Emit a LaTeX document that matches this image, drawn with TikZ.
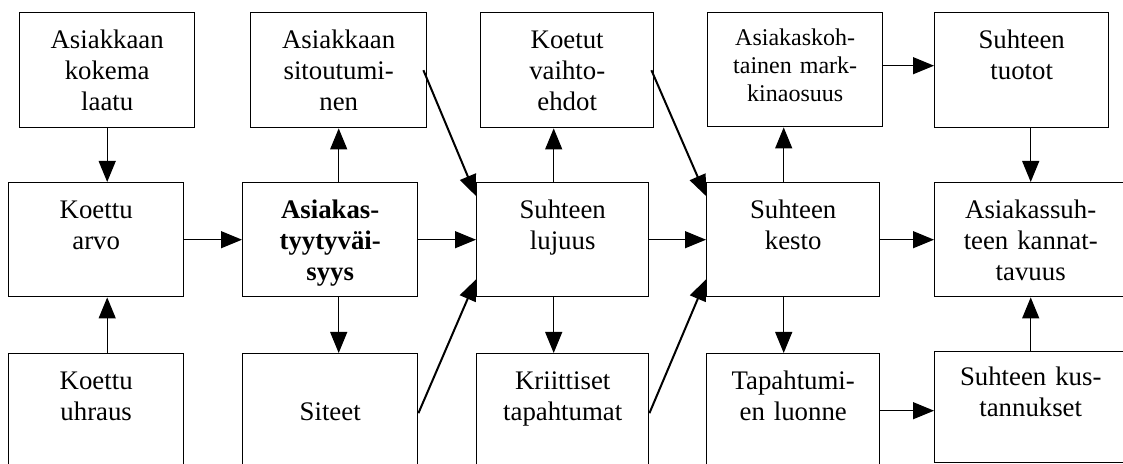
\documentclass[tikz,border=0pt]{standalone}
\usepackage{fontspec}
\setmainfont{Liberation Serif}
\usetikzlibrary{arrows.meta}
\newcommand\cellfont{\fontsize{13.4pt}{15.5pt}\selectfont}
\newcommand\smallcellfont{\fontsize{12pt}{14pt}\selectfont}
\begin{document}
\begin{tikzpicture}[x=0.5pt,y=-0.5pt,
  cell/.style={draw, line width=0.7pt, inner sep=0pt, anchor=north west,
    align=center, font=\cellfont, text height=18pt},
  link/.style={line width=0.6pt, -{Triangle[length=10.5pt,width=8.5pt]}},
  slant/.style={link, line width=1pt}]
\useasboundingbox (0,0) rectangle (1123,464);
\clip (0,0) rectangle (1123,464);
\fill[white] (0,0) rectangle (1123,464);

% upper row
\node[cell, text width=87.5pt, text depth=39.5pt] (laatu) at (19,12) {Asiakkaan\\kokema\\laatu};
\node[cell, text width=88pt, text depth=39.5pt] (sit) at (250,12) {Asiakkaan\\sitoutumi-\\nen};
\node[cell, text width=86.5pt, text depth=39.5pt] (vaiht) at (480,12) {Koetut\\vaihto-\\ehdot};
\node[cell, font=\smallcellfont, text height=16.5pt, text width=87.5pt, text depth=40.5pt] (mark) at (707,12) {Asiakaskoh-\\tainen mark-\\kinaosuus};
\node[cell, text width=87pt, text depth=39.5pt] (tuotot) at (934,12) {Suhteen\\tuotot};

% middle row
\node[cell, text width=87.5pt, text depth=39pt] (arvo) at (8,182) {Koettu\\arvo};
\node[cell, text width=87.5pt, text depth=39pt, font=\cellfont\bfseries] (tyyt) at (242,182) {Asiakas-\\tyytyväi-\\syys};
\node[cell, text width=86pt, text depth=39pt] (lujuus) at (476,182) {Suhteen\\lujuus};
\node[cell, text width=86.5pt, text depth=39pt] (kesto) at (706,182) {Suhteen\\kesto};
\node[cell, text width=96pt, text depth=39pt] (kann) at (934,182) {Asiakassuh-\\teen kannat-\\tavuus};

% lower row
\node[cell, text width=87.5pt, text depth=45.5pt] (uhraus) at (8,353) {Koettu\\uhraus};
\node[cell, text width=87.5pt, text depth=45.5pt] (siteet) at (242,353) {\mbox{}\\Siteet};
\node[cell, text width=86pt, text depth=45.5pt] (krit) at (476,353) {Kriittiset\\tapahtumat};
\node[cell, text width=86.5pt, text depth=45.5pt] (tapaht) at (706,353) {Tapahtumi-\\en luonne};
\node[cell, text height=17pt, text width=96pt, text depth=38.5pt] (kust) at (934,351) {Suhteen kus-\\tannukset};

% vertical links
\draw[link] (laatu.south) -- (laatu.south |- arvo.north);
\draw[link] (laatu.south |- uhraus.north) -- (laatu.south |- arvo.south);
\draw[link] (sit.south |- tyyt.north) -- (sit.south);
\draw[link] (sit.south |- tyyt.south) -- (sit.south |- siteet.north);
\draw[link] ([xshift=-4.5pt]lujuus.north) coordinate (lv) -- (lv |- vaiht.south);
\draw[link] (lv |- lujuus.south) -- (lv |- krit.north);
\draw[link] ([xshift=-4.75pt]kesto.north) coordinate (kv) -- (kv |- mark.south);
\draw[link] (kv |- kesto.south) -- (kv |- tapaht.north);
\draw[link] (tuotot.south -| kann.north) -- (kann.north);
\draw[link] (kust.north -| kann.south) -- (kann.south);

% horizontal links
\draw[link] (arvo.east) -- (tyyt.west);
\draw[link] (tyyt.east) -- (lujuus.west);
\draw[link] (lujuus.east) -- (kesto.west);
\draw[link] (kesto.east) -- (kesto.east -| kann.west);
\draw[link] ([yshift=2pt]mark.east) coordinate (me) -- (me -| tuotot.west);
\coordinate (kw) at ([yshift=-1.75pt]kust.west);
\draw[link] (kw -| tapaht.east) -- (kw);

% slanted links into the middle boxes
\draw[slant] ([xshift=-2pt]sit.east) -- ([yshift=-7pt]lujuus.north west);
\draw[slant] ([yshift=2pt]siteet.east) -- ([yshift=9pt]lujuus.south west);
\draw[slant] ([xshift=-1.5pt]vaiht.east) -- ([yshift=-7pt]kesto.north west);
\draw[slant] ([yshift=2pt]krit.east) -- ([yshift=9pt]kesto.south west);
\end{tikzpicture}
\end{document}
